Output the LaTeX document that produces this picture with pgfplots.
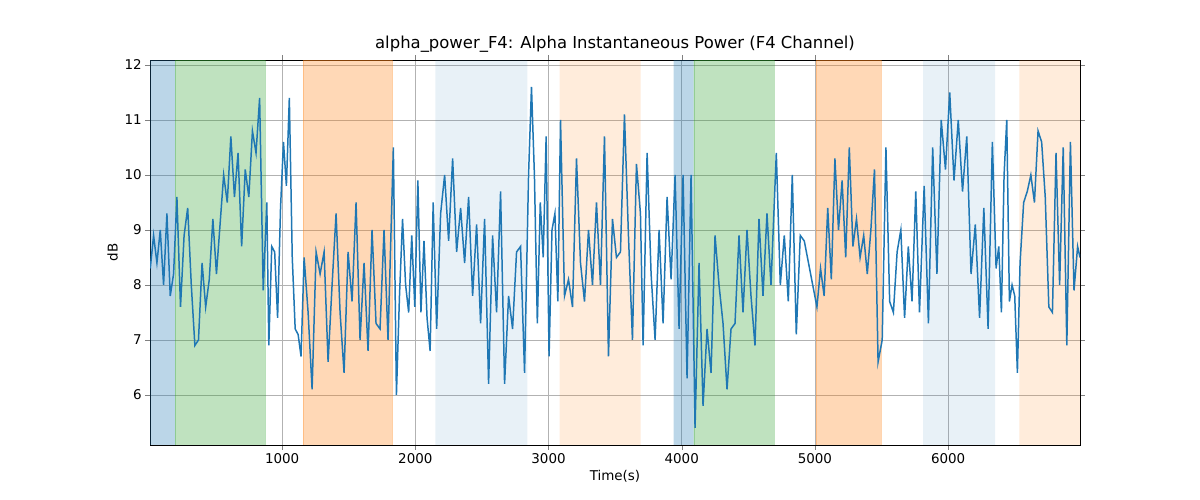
\documentclass[border=0pt]{standalone}
\usepackage{pgfplots}
\pgfplotsset{compat=1.18}
\usepackage{fontspec}
\setmainfont{DejaVu Sans}
\definecolor{cb}{HTML}{1F77B4}
\definecolor{cg}{HTML}{2CA02C}
\definecolor{co}{HTML}{FF7F0E}
\begin{document}
\begin{tikzpicture}[x=1bp,y=1bp]
\path (-150bp,-55bp) rectangle (1050bp,445bp);
\begin{axis}[at={(0,0)},anchor=south west,scale only axis,width=930bp,height=385bp,
xmin=8,xmax=6990,ymin=5.09,ymax=12.09,
xtick={1000,2000,3000,4000,5000,6000},ytick={6,7,8,9,10,11,12},
grid=major,major grid style={gray!60,line width=0.8pt},
tick align=outside,major tick length=4.8bp,
/pgf/number format/assume math mode=true,/pgf/number format/set thousands separator={},
ticklabel style={font=\fontsize{13.5}{15}\selectfont},
label style={font=\fontsize{13.5}{15}\selectfont},
xlabel={Time(s)},ylabel={dB},
title={alpha\_power\_F4: Alpha Instantaneous Power (F4 Channel)},
title style={font=\fontsize{16.5}{18}\selectfont,yshift=-2bp},
axis on top=false]
\addplot[fill=cb,fill opacity=0.3,draw=none] coordinates {(8,5.09)(8,12.09)(196,12.09)(196,5.09)} \closedcycle;
\addplot[fill=cg,fill opacity=0.3,draw=cg,draw opacity=0.3] coordinates {(196,5.09)(196,12.09)(872,12.09)(872,5.09)} \closedcycle;
\addplot[fill=co,fill opacity=0.3,draw=co,draw opacity=0.3] coordinates {(1158,5.09)(1158,12.09)(1827,12.09)(1827,5.09)} \closedcycle;
\addplot[fill=cb,fill opacity=0.1,draw=none] coordinates {(2150,5.09)(2150,12.09)(2842,12.09)(2842,5.09)} \closedcycle;
\addplot[fill=co,fill opacity=0.15,draw=none] coordinates {(3083,5.09)(3083,12.09)(3692,12.09)(3692,5.09)} \closedcycle;
\addplot[fill=cb,fill opacity=0.3,draw=none] coordinates {(3940,5.09)(3940,12.09)(4090,12.09)(4090,5.09)} \closedcycle;
\addplot[fill=cg,fill opacity=0.3,draw=cg,draw opacity=0.3] coordinates {(4090,5.09)(4090,12.09)(4692,12.09)(4692,5.09)} \closedcycle;
\addplot[fill=co,fill opacity=0.3,draw=co,draw opacity=0.3] coordinates {(5008,5.09)(5008,12.09)(5496,12.09)(5496,5.09)} \closedcycle;
\addplot[fill=cb,fill opacity=0.1,draw=none] coordinates {(5812,5.09)(5812,12.09)(6353,12.09)(6353,5.09)} \closedcycle;
\addplot[fill=co,fill opacity=0.15,draw=none] coordinates {(6534,5.09)(6534,12.09)(6990,12.09)(6990,5.09)} \closedcycle;
\addplot[cb,line width=1.5pt,mark=none] coordinates {
(10,8.3)(35,8.9)(60,8.4)(85,9.0)(110,8.0)(135,9.3)(160,7.8)(185,8.2)
(210,9.6)(237,7.6)(264,8.9)(291,9.4)(318,8.0)(345,6.9)(372,7.0)(399,8.4)(426,7.6)(453,8.1)(480,9.2)(507,8.2)(534,9.1)(561,10.0)(588,9.5)(615,10.7)(642,9.6)(669,10.4)(696,8.7)(723,10.1)(750,9.6)(777,10.8)(804,10.4)(831,11.4)(858,7.9)(885,9.5)
(900,6.9)(922,8.7)(944,8.6)(966,7.4)(988,9.4)(1010,10.6)(1032,9.8)(1054,11.4)(1076,8.5)(1098,7.2)(1120,7.1)(1142,6.7)
(1165,8.5)(1195,7.5)(1225,6.1)(1255,8.6)(1285,8.2)(1315,8.6)(1345,6.6)(1375,8.0)(1405,9.3)(1435,7.5)(1465,6.4)(1495,8.6)(1525,7.7)(1555,9.5)(1585,7.0)(1615,8.4)(1645,6.8)(1675,9.0)(1705,7.3)(1735,7.2)(1765,9.0)(1795,7.0)
(1835,10.5)(1858,6.0)(1881,7.8)(1904,9.2)(1927,8.0)(1950,7.5)(1973,8.9)(1996,7.6)(2019,9.9)(2042,7.5)(2065,8.8)(2088,7.4)(2111,6.8)(2134,9.5)
(2160,7.2)(2190,9.3)(2220,10.0)(2250,8.8)(2280,10.3)(2310,8.6)(2340,9.4)(2370,8.4)(2400,9.6)(2430,7.8)(2460,9.1)(2490,7.3)(2520,9.2)(2550,6.2)(2580,8.9)(2610,7.5)(2640,9.7)(2670,6.2)(2700,7.8)(2730,7.2)(2760,8.6)(2790,8.7)(2820,6.4)
(2850,10.0)(2872,11.6)(2894,10.0)(2916,7.3)(2938,9.5)(2960,8.5)(2982,10.7)(3004,6.7)(3026,9.0)(3048,9.3)(3070,7.7)
(3090,11.0)(3120,7.8)(3150,8.1)(3180,7.6)(3210,10.3)(3240,8.4)(3270,7.7)(3300,9.0)(3330,8.0)(3360,9.5)(3390,8.0)(3420,10.7)(3450,6.7)(3480,9.2)(3510,8.5)(3540,8.6)(3570,11.1)(3600,8.9)(3630,7.0)(3660,10.2)(3690,9.3)
(3710,6.9)(3740,10.4)(3770,8.2)(3800,7.0)(3830,9.0)(3860,7.3)(3890,9.6)(3920,8.1)
(3950,10.0)(3980,7.2)(4010,10.0)(4040,6.3)(4070,10.0)
(4100,5.4)(4130,8.4)(4160,5.8)(4190,7.2)(4220,6.4)(4250,8.9)(4280,8.0)(4310,7.3)(4340,6.1)(4370,7.2)(4400,7.3)(4430,8.9)(4460,7.5)(4490,9.0)(4520,7.8)(4550,6.9)(4580,9.2)(4610,7.8)(4640,9.3)(4670,8.0)
(4710,10.4)(4740,8.0)(4770,8.9)(4800,7.7)(4830,10.0)(4860,7.1)(4890,8.9)(4920,8.8)
(5015,7.6)(5042,8.3)(5069,7.8)(5096,9.4)(5123,8.1)(5150,10.3)(5177,9.0)(5204,9.9)(5231,8.5)(5258,10.5)(5285,8.7)(5312,9.2)(5339,8.5)(5366,8.9)(5393,8.2)(5420,9.0)(5447,10.1)(5474,6.6)
(5505,7.0)(5533,10.5)(5561,7.7)(5589,7.5)(5617,8.6)(5645,9.0)(5673,7.4)(5701,8.7)(5729,7.7)(5757,9.7)(5785,7.5)
(5820,9.8)(5852,7.3)(5884,10.5)(5916,8.2)(5948,11.0)(5980,10.1)(6012,11.5)(6044,9.9)(6076,11.0)(6108,9.7)(6140,10.7)(6172,8.2)(6204,9.1)(6236,7.4)(6268,9.4)(6300,7.2)(6332,10.6)
(6360,8.3)(6380,8.7)(6400,7.5)(6420,10.0)(6440,11.0)(6460,7.7)(6480,8.0)(6500,7.8)(6520,6.4)
(6540,8.4)(6567,9.5)(6594,9.7)(6621,10.0)(6648,9.5)(6675,10.8)(6702,10.6)(6729,9.6)(6756,7.6)(6783,7.5)(6810,10.4)(6837,8.0)(6864,10.5)(6891,6.9)(6918,10.6)(6945,7.9)(6972,8.7)(6990,8.5)
};
\end{axis}
\end{tikzpicture}
\end{document}
